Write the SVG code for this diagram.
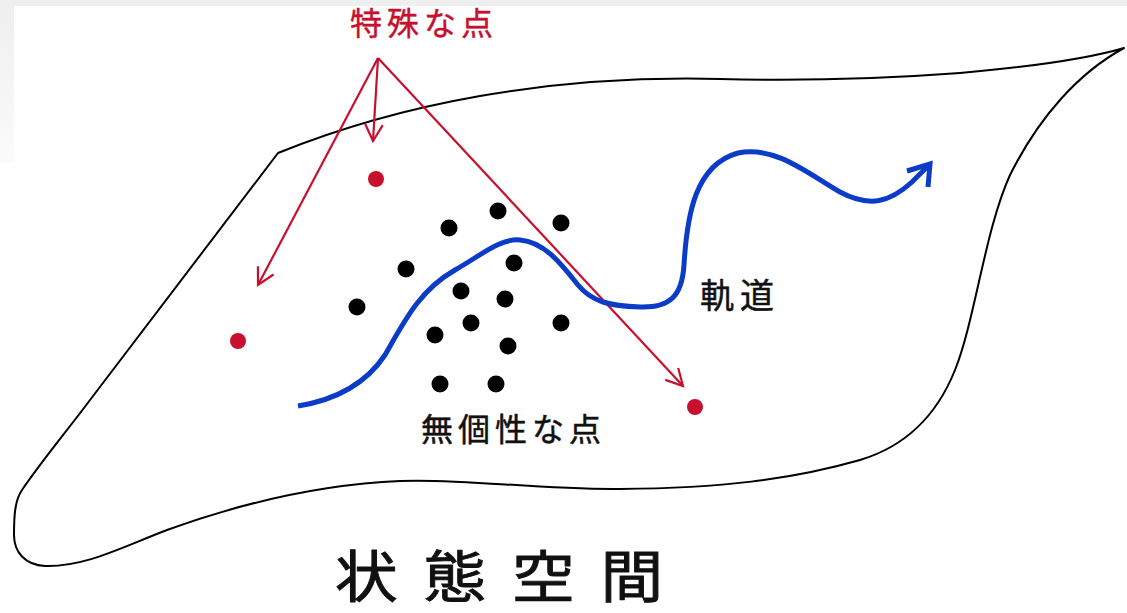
<svg xmlns="http://www.w3.org/2000/svg" width="1127" height="613" viewBox="0 0 1127 613">
  <defs>
    <linearGradient id="fade" x1="0" y1="0" x2="0" y2="1">
      <stop offset="0" stop-color="#efefef"/>
      <stop offset="1" stop-color="#fbfbfb"/>
    </linearGradient>
    <marker id="redHead" viewBox="0 0 20 20" refX="18" refY="10" markerWidth="22" markerHeight="22" markerUnits="userSpaceOnUse" orient="auto">
      <path d="M3,2 L18,10 L3,18" fill="none" stroke="#c8102e" stroke-width="2"/>
    </marker>
  </defs>
  <style>
    .outline { fill: none; stroke: #000; stroke-width: 2; stroke-linejoin: round; }
    .red { fill: #c8102e; }
    .black { fill: #000; }
    .redline { fill: none; stroke: #c8102e; stroke-width: 2.2; }
    .traj { fill: none; stroke: #0a3cc8; stroke-width: 5; stroke-linecap: butt; stroke-linejoin: miter; }
    .lbl { font-family: "Noto Sans CJK JP", "Noto Sans CJK SC", sans-serif; }
  </style>
  <rect width="1127" height="613" fill="#fff"/>
  <rect x="0" y="0" width="1127" height="6" fill="#efefef"/>
  <rect x="0" y="6" width="14" height="157" fill="url(#fade)"/>

  <g id="state-space">
    <path class="outline" d="M278,153 C330,132 400,110 480,96 C560,82 640,77 720,79 C800,81 880,79 960,73 C1040,66 1090,58 1124,48 C1080,72 1040,115 1010,175 C985,230 975,320 955,370 C935,420 900,448 860,460 C790,480 720,488 620,489 C540,490 460,478 400,481 C330,484 250,500 167,530 C120,548 85,567 45,566 C25,565 14,552 14,535 C14,515 15,500 22,490 C40,463 70,427 90,400 Z"/>
    <text class="lbl" transform="translate(335,597) scale(1.12,1)" x="0" y="0" font-size="56" letter-spacing="23" fill="#111" stroke="#111" stroke-width="0.9">状態空間</text>
  </g>

  <g id="special-points">
    <text class="lbl" x="350" y="35" font-size="32" letter-spacing="5" fill="#c8102e" stroke="#c8102e" stroke-width="0.4">特殊な点</text>
    <circle class="red" cx="376" cy="179" r="8"/>
    <circle class="red" cx="238" cy="341" r="8"/>
    <circle class="red" cx="695" cy="407" r="8"/>
  </g>

  <g id="generic-points">
    <circle class="black" cx="498" cy="211" r="8.5"/>
    <circle class="black" cx="449" cy="228" r="8.5"/>
    <circle class="black" cx="561" cy="223" r="8.5"/>
    <circle class="black" cx="406" cy="269" r="8.5"/>
    <circle class="black" cx="514" cy="263" r="8.5"/>
    <circle class="black" cx="461" cy="291" r="8.5"/>
    <circle class="black" cx="505" cy="299" r="8.5"/>
    <circle class="black" cx="357" cy="307" r="8.5"/>
    <circle class="black" cx="471" cy="323" r="8.5"/>
    <circle class="black" cx="561" cy="323" r="8.5"/>
    <circle class="black" cx="435" cy="335" r="8.5"/>
    <circle class="black" cx="508" cy="346" r="8.5"/>
    <circle class="black" cx="440" cy="384" r="8.5"/>
    <circle class="black" cx="496" cy="384" r="8.5"/>
    <text class="lbl" x="421" y="441" font-size="32" letter-spacing="5" fill="#111" stroke="#111" stroke-width="0.5">無個性な点</text>
  </g>

  <g id="trajectory-label">
    <text class="lbl" x="700" y="308" font-size="34" letter-spacing="6" fill="#111" stroke="#111" stroke-width="0.5">軌道</text>
  </g>

  <g id="connectors">
    <line class="redline" x1="378" y1="58" x2="373" y2="141" marker-end="url(#redHead)"/>
    <line class="redline" x1="378" y1="58" x2="258" y2="285" marker-end="url(#redHead)"/>
    <line class="redline" x1="378" y1="58" x2="683" y2="386" marker-end="url(#redHead)"/>
    <path class="traj" d="M298,406 C335,400 365,385 385,355 C405,320 420,290 455,270 C480,256 500,238 520,240 C545,242 562,265 578,285 C592,302 610,306 640,307 C670,308 682,296 684,265 C687,215 695,165 738,153 C775,145 810,175 840,192 C870,208 890,202 912,182 L930,164"/>
    <polyline class="traj" points="907,171 930,164 928,187"/>
  </g>
</svg>
